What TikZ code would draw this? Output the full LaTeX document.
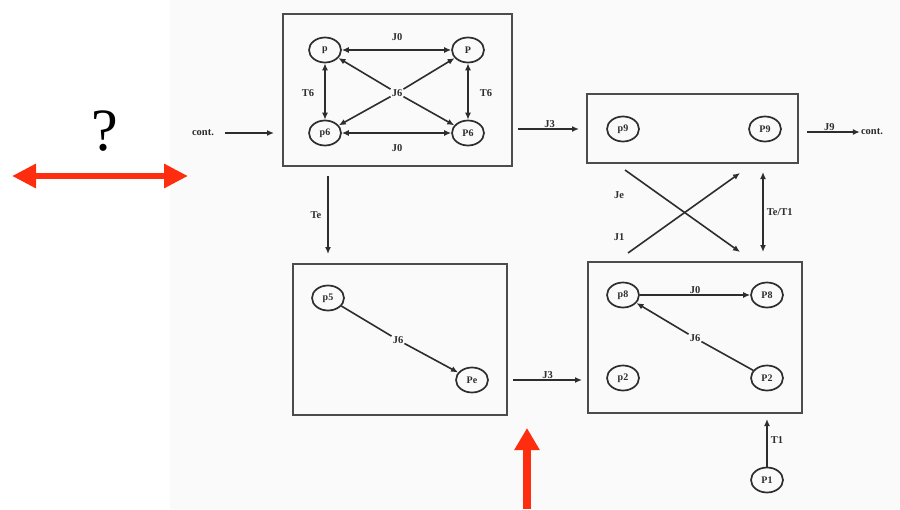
\documentclass[tikz,border=0pt]{standalone}
\usepackage{fontspec}
\setmainfont{Liberation Serif}
\usetikzlibrary{shapes.geometric,arrows.meta}
\definecolor{redarr}{RGB}{255,45,15}
\definecolor{ink}{RGB}{45,45,45}
\tikzset{
  every picture/.style={x=1pt,y=-1pt},
  place/.style={ellipse,draw=ink,line width=1.7pt,minimum width=32pt,minimum height=25pt,inner sep=0pt,font=\bfseries\fontsize{10}{10}\selectfont,text=ink},
  box/.style={draw=ink!85,line width=2pt,inner sep=0pt},
  lbl/.style={font=\bfseries\fontsize{10.5}{10.5}\selectfont,text=ink,inner sep=1pt},
  conn/.style={draw=ink,line width=1.6pt,-{Latex[length=7pt,width=6pt]}},
  dconn/.style={draw=ink,line width=1.6pt,{Latex[length=7pt,width=6pt]}-{Latex[length=7pt,width=6pt]}},
  plain/.style={draw=ink,line width=1.6pt},
  redar/.style={draw=redarr,fill=redarr}
}
\begin{document}
\begin{tikzpicture}
\useasboundingbox (0,0) rectangle (900,509);
\fill[black!2] (170,0) rectangle (900,509);

% boxes
\node[box,minimum width=229pt,minimum height=152pt] (A) at (397.5,90) {};
\node[box,minimum width=211pt,minimum height=69pt] (B) at (692.5,128.5) {};
\node[box,minimum width=214pt,minimum height=151pt] (C) at (400,339.5) {};
\node[box,minimum width=214pt,minimum height=151pt] (D) at (695,337.5) {};

% box A
\node[place] (p) at (325,50) {p};
\node[place] (P) at (468,50) {P};
\node[place] (p6) at (325,133) {p6};
\node[place] (P6) at (468,133) {P6};
\node[lbl] (J6a) at (397,93) {J6};
\node[lbl] (J0a) at (397,37) {J0};
\node[lbl] (J0b) at (397,148) {J0};
\node[lbl] (T6a) at (308,93) {T6};
\node[lbl] (T6b) at (486,93) {T6};
\draw[dconn] (p) -- (P);
\draw[dconn] (p6) -- (P6);
\draw[dconn] (p) -- (p6);
\draw[dconn] (P) -- (P6);
\draw[conn] (J6a) -- (p);
\draw[conn] (J6a) -- (P);
\draw[conn] (J6a) -- (p6);
\draw[conn] (J6a) -- (P6);

% cont in
\node[lbl] (contin) at (203,133) {cont.};
\draw[conn] (contin.east) ++(10,0) coordinate (ci) (ci) -- ([xshift=-8pt]A.west |- contin);

% box B
\node[place] (p9) at (623,129) {p9};
\node[place] (P9) at (765,129) {P9};
\draw[conn,shorten <=5pt,shorten >=7pt] (A.east |- p9) -- node[lbl,above] (J3a) {J3} (B.west |- p9);
\node[lbl] (contout) at (872,132) {cont.};
\draw[conn,shorten <=8pt] (B.east |- contout) -- node[lbl,above] (J9) {J9} (contout.west);

% box C
\node[place] (p5) at (328,298) {p5};
\node[place] (Pe) at (472,380) {Pe};
\node[lbl] (J6c) at (398,340) {J6};
\draw[plain] (p5) -- (J6c);
\draw[conn] (J6c) -- (Pe);
\draw[conn,shorten <=9pt,shorten >=9pt] (A.south -| p5) -- node[lbl,left=5pt] (Te) {Te} (C.north -| p5);
\draw[conn,shorten <=5pt,shorten >=5pt] (C.east |- Pe) -- node[lbl,above] (J3b) {J3} (D.west |- Pe);

% box D
\node[place] (p8) at (623,295) {p8};
\node[place] (P8) at (767,295) {P8};
\node[place] (p2) at (623,378) {p2};
\node[place] (P2) at (767,378) {P2};
\node[lbl] (J6d) at (695,338) {J6};
\draw[conn] (p8) -- node[lbl,above] (J0d) {J0} (P8);
\draw[plain] (P2) -- (J6d);
\draw[conn] (J6d) -- (p8);
\node[place] (P1) at (767,480) {P1};
\draw[conn,shorten >=5pt] (P1) -- node[lbl,right=2pt] (T1) {T1} (D.south -| P1);

% cross between B and D
\coordinate (c1) at (625,170);
\coordinate (c2) at (740,252);
\coordinate (c3) at (628,253);
\coordinate (c4) at (740,173);
\draw[conn] (c1) -- (c2);
\draw[conn] (c3) -- (c4);
\node[lbl] (Je) at (619,195) {Je};
\node[lbl] (J1) at (619,237) {J1};
\draw[dconn,shorten <=8pt,shorten >=9pt] (B.south -| 763,0) -- node[lbl,right=2pt] (TeT1) {Te/T1} (D.north -| 763,0);

% red annotations
\node[font=\fontsize{60}{60}\selectfont] (q) at (105,131) {?};
\coordinate (rl) at (12,176);
\coordinate (rr) at (188,176);
\draw[redarr,line width=6.5pt,{Triangle[length=24pt,width=23pt]}-{Triangle[length=24pt,width=23pt]}] (rl) -- (rr);
\coordinate (ub) at (527,509);
\coordinate (ut) at (527,428);
\draw[redarr,line width=8pt,-{Triangle[length=22pt,width=24pt]}] (ub) -- (ut);
\end{tikzpicture}
\end{document}
